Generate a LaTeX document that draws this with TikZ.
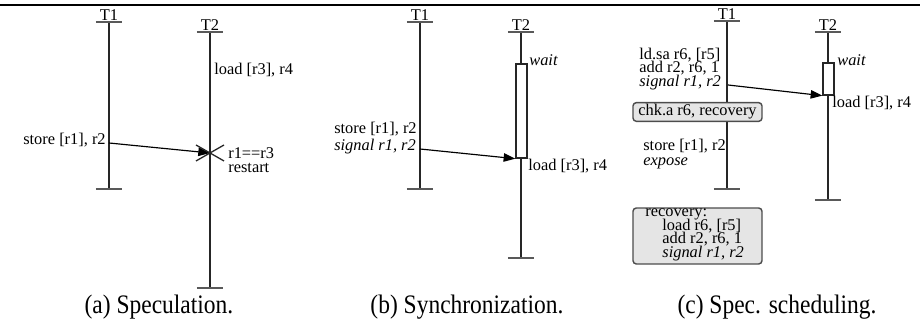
\documentclass[tikz,border=0pt]{standalone}
\usepackage{fontspec}
\setmainfont{Liberation Serif}
\newfontfamily\capfont[FakeStretch=0.88]{Liberation Serif}
\usetikzlibrary{arrows.meta}
\tikzset{
  thr/.style={draw=black!85, line width=0.55pt},
  tickln/.style={draw=black!65, line width=0.65pt},
  lbl/.style={font=\fontsize{7}{8}\selectfont, inner sep=0.8pt},
  ilbl/.style={font=\fontsize{7}{8}\selectfont\itshape, inner sep=0.8pt},
  mlbl/.style={font={\fontsize{7}{#1}\selectfont\lineskiplimit=-20pt\lineskip=0pt}, inner sep=0.8pt, align=left},
  arr/.style={draw=black, line width=0.5pt, -{Triangle[length=5pt,width=3.6pt]}},
  waitbox/.style={draw=black!85, line width=0.55pt, fill=white, minimum width=4.7pt, inner sep=0pt},
  gbox/.style={draw=black!70, line width=0.6pt, fill=gray!20, rounded corners=1.4pt, inner sep=0pt},
  capstyle/.style={font=\capfont\fontsize{11.4}{13}\selectfont, inner sep=0pt}
}
\newcommand\mythread[5]{%
  \coordinate (#1t) at (#2,#3);
  \coordinate (#1b) at (#2,#4);
  \draw[thr] (#1t) -- (#1b);
  \draw[tickln] ([xshift=-5.6pt]#1t) -- ([xshift=5.6pt]#1t);
  \draw[tickln] ([xshift=-5.6pt]#1b) -- ([xshift=5.6pt]#1b);
  \node[lbl, anchor=base, inner sep=0pt] (#1lab) at ([yshift=0.6pt]#1t) {#5};
}
\begin{document}
\begin{tikzpicture}[x=0.4272pt,y=-0.4272pt]
\useasboundingbox (0,0) rectangle (920,329);
\coordinate (rl) at (0,5);
\coordinate (rr) at (920,5);
\draw[line width=1.1pt] (rl) -- (rr);

% ---------------- (a) ----------------
\mythread{aA}{109}{22}{189}{T1}
\mythread{aB}{210}{32}{288}{T2}
\node[lbl, anchor=west] (aload) at (212,70) {load [r3], r4};
\node[lbl, anchor=east] (astore) at (108,140) {store [r1], r2};
\coordinate (aS) at (109,143);
\coordinate (aX) at (210,153);
\draw[arr] (aS) -- (aX);
\coordinate (aX1) at (196,145);
\coordinate (aX2) at (224,161);
\coordinate (aX3) at (196,161);
\coordinate (aX4) at (224,145);
\draw[thr] (aX1) -- (aX2);
\draw[thr] (aX3) -- (aX4);
\node[mlbl=5.85pt, anchor=west] (aeq) at (226,160.5) {r1==r3\\restart};
\node[capstyle] (capa) at (159,307) {(a) Speculation.};

% ---------------- (b) ----------------
\mythread{bA}{420}{22}{189}{T1}
\mythread{bB}{521}{32}{258}{T2}
\node[waitbox, minimum height=40.2pt] (bwait) at (521.5,111) {};
\node[ilbl, anchor=west] (bwaitl) at (527,60) {wait};
\node[mlbl=7.6pt, anchor=east] (bstore) at (419,138) {store [r1], r2\\\itshape signal r1, r2};
\coordinate (bS) at (420,149);
\draw[arr] (bS) -- (bwait.south west);
\node[lbl, anchor=west] (bload) at (526,166) {load [r3], r4};
\node[capstyle] (capb) at (467,307) {(b) Synchronization.};

% ---------------- (c) ----------------
\mythread{cA}{727}{21}{189}{T1}
\mythread{cB}{828}{32}{200}{T2}
\node[waitbox, minimum height=13.7pt] (cwait) at (828.5,79) {};
\node[ilbl, anchor=west] (cwaitl) at (835,60) {wait};
\node[mlbl=5.9pt, anchor=west] (cld) at (637,69) {ld.sa r6, [r5]\\add r2, r6, 1\\\itshape signal r1, r2};
\coordinate (cS) at (728,85);
\draw[arr] (cS) -- (cwait.south west);
\node[lbl, anchor=west] (cload) at (830,103) {load [r3], r4};
\node[gbox, lbl, minimum width=55.1pt, minimum height=6.8pt] (chk) at (697.5,112) {chk.a r6, recovery};
\node[mlbl=6.4pt, anchor=west] (cstore) at (641,154.5) {store [r1], r2\\\itshape expose};
\node[gbox, minimum width=55.1pt, minimum height=23.9pt] (crec) at (697.5,236) {};
\node[mlbl=5.85pt, anchor=west] (crect) at (643,235) {recovery:\\\hspace*{7.3pt}load r6, [r5]\\\hspace*{7.3pt}add r2, r6, 1\\\hspace*{7.3pt}\itshape signal r1, r2};
\node[capstyle] (capc) at (777,307) {(c) Spec. scheduling.};
\end{tikzpicture}
\end{document}
